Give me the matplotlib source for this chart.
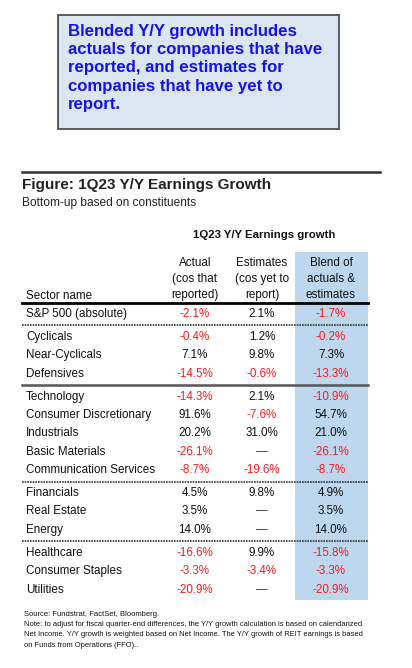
import matplotlib.pyplot as plt
from matplotlib.patches import Rectangle
from matplotlib.lines import Line2D

plt.rcParams['font.family'] = ['Liberation Sans', 'DejaVu Sans']

# table data
sectors = ['S&P 500 (absolute)',
           'Cyclicals', 'Near-Cyclicals', 'Defensives',
           'Technology', 'Consumer Discretionary', 'Industrials', 'Basic Materials',
           'Communication Services',
           'Financials', 'Real Estate', 'Energy',
           'Healthcare', 'Consumer Staples', 'Utilities']
groups = [0, 1, 1, 1, 2, 2, 2, 2, 2, 3, 3, 3, 4, 4, 4]
actual = [-2.1, -0.4, 7.1, -14.5, -14.3, 91.6, 20.2, -26.1, -8.7, 4.5, 3.5, 14.0, -16.6, -3.3, -20.9]
estimates = [2.1, 1.2, 9.8, -0.6, 2.1, -7.6, 31.0, None, -19.6, 9.8, None, None, 9.9, -3.4, None]
blend = [-1.7, -0.2, 7.3, -13.3, -10.9, 54.7, 21.0, -26.1, -8.7, 4.9, 3.5, 14.0, -15.8, -3.3, -20.9]
# separator style below each group (last group has none)
sep_styles = ['dotted', 'solid', 'dotted', 'dotted']

col_headers = ['Actual\n(cos that\nreported)', 'Estimates\n(cos yet to\nreport)', 'Blend of\nactuals &\nestimates']
callout = ('Blended Y/Y growth includes\nactuals for companies that have\n'
           'reported, and estimates for\ncompanies that have yet to\nreport.')
title = 'Figure: 1Q23 Y/Y Earnings Growth'
subtitle = 'Bottom-up based on constituents'
group_title = '1Q23 Y/Y Earnings growth'
source = 'Source: Fundstrat, FactSet, Bloomberg.'
note = ('Note: to adjust for fiscal quarter-end differences, the Y/Y growth calculation is based on calendarized\n'
        'Net Income. Y/Y growth is weighted based on Net Income. The Y/Y growth of REIT earnings is based\n'
        'on Funds from Operations (FFO)..')

W, H = 412, 668
fig = plt.figure(figsize=(W / 100, H / 100), dpi=100)


def fx(x):
    return x / W


def fy(y):
    return 1 - y / H


def hline(x0, x1, y, **kw):
    fig.add_artist(Line2D([fx(x0), fx(x1)], [fy(y), fy(y)], transform=fig.transFigure, **kw))


# callout box
fig.add_artist(Rectangle((fx(58), fy(129)), fx(339) - fx(58), fy(15) - fy(129),
                         transform=fig.transFigure, facecolor='#dce6f2',
                         edgecolor='#4d4d4d', linewidth=1.3))
fig.text(fx(68), fy(24), callout, color='#1212f0', fontsize=12.1, fontweight='bold',
         va='top', ha='left', linespacing=1.27)

# title block
hline(22, 380, 172, color='#333333', linewidth=1.8)
fig.text(fx(22), fy(185), title, fontsize=11, fontweight='bold', va='center', color='#222222')
fig.text(fx(22), fy(203), subtitle, fontsize=8.6, va='center', color='#222222')

col_x = [195, 262, 331]
row_h = 18.4
sep_gap = 4.5
y0 = 314

ys = []
for i, g in enumerate(groups):
    if i == 0:
        ys.append(y0)
    else:
        ys.append(ys[-1] + row_h + (sep_gap if g != groups[i - 1] else 0))

# blue blend column
col_top, col_bot = 252, ys[-1] + 10
fig.add_artist(Rectangle((fx(295), fy(col_bot)), fx(368) - fx(295), fy(col_top) - fy(col_bot),
                         transform=fig.transFigure, facecolor='#bdd7ee', edgecolor='none', zorder=0))

fig.text(fx(264), fy(235), group_title, fontsize=8.2, fontweight='bold', ha='center', va='center',
         color='#111111')
for x, h in zip(col_x, col_headers):
    fig.text(fx(x), fy(298), h, fontsize=8.4, ha='center', va='baseline', linespacing=1.45,
             color='#111111')
fig.text(fx(26), fy(299), 'Sector name', fontsize=8.4, va='baseline', color='#111111')
hline(22, 368, 303, color='black', linewidth=2)


def fmt(v):
    if v is None:
        return '\u2014', '#333333'
    return '%.1f%%' % v, ('#ff1a1a' if v < 0 else '#111111')


for i, name in enumerate(sectors):
    y = ys[i]
    fig.text(fx(26), fy(y), name, fontsize=8.4, va='center', color='#111111')
    for x, v in zip(col_x, [actual[i], estimates[i], blend[i]]):
        s, c = fmt(v)
        fig.text(fx(x), fy(y), s, fontsize=8.4, ha='center', va='center', color=c)

# group separators
for i in range(1, len(groups)):
    if groups[i] != groups[i - 1]:
        ysep = (ys[i] + ys[i - 1]) / 2
        st = sep_styles[groups[i - 1]]
        if st == 'solid':
            hline(22, 368, ysep, color='#555555', linewidth=1.8)
        else:
            hline(22, 368, ysep, color='#333333', linewidth=1.2, linestyle=(0, (1, 0.6)))

fig.text(fx(24), fy(615), source, fontsize=5.5, va='center', color='#111111')
fig.text(fx(24), fy(621), note, fontsize=5.45, va='top', linespacing=1.7, color='#111111')

fig.savefig('out.png', dpi=100)
